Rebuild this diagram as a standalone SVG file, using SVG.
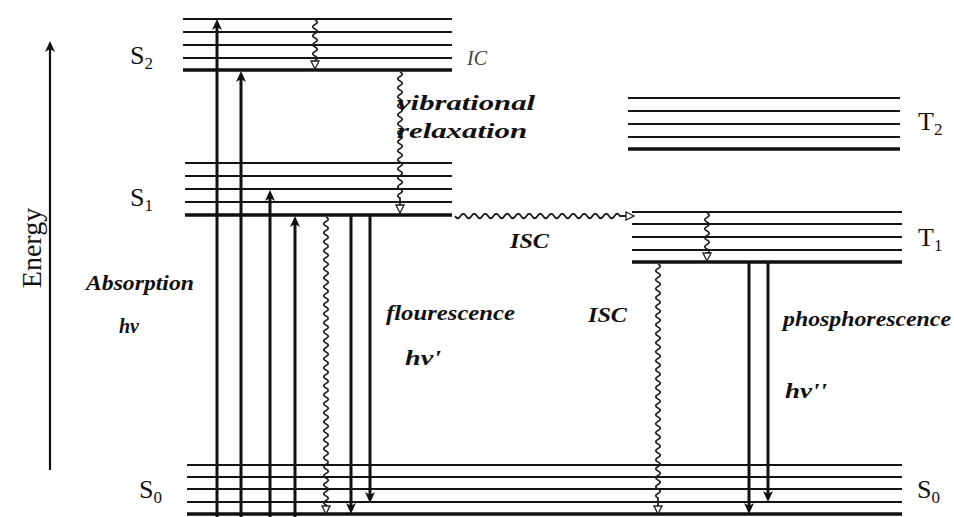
<svg xmlns="http://www.w3.org/2000/svg" width="954" height="517" viewBox="0 0 954 517">
<style>
.lv{stroke:#151515;stroke-width:2.2;}
.lvb{stroke:#111;stroke-width:3.4;}
.ar{stroke:#111;stroke-width:3;fill:none;}
.wv{stroke:#1e1e1e;stroke-width:1.8;fill:none;}
.st{font-family:"Liberation Serif","DejaVu Serif",serif;font-size:26px;fill:#111;}
.sub{font-size:17px;}
.lb{font-family:"Liberation Serif","DejaVu Serif",serif;font-style:italic;font-weight:bold;font-size:20px;fill:#111;}
</style>
<defs>
<marker id="ah" viewBox="-12 -6 13 12" refX="-5" refY="0" markerWidth="13" markerHeight="12" markerUnits="userSpaceOnUse" orient="auto">
<path d="M0,0 L-11,-5 L-8,0 L-11,5 z" fill="#111"/>
</marker>
<marker id="aw" viewBox="-10 -5 11 10" refX="0" refY="0" markerWidth="11" markerHeight="10" markerUnits="userSpaceOnUse" orient="auto">
<path d="M0,0 L-8,-4 L-8,4 z" fill="#fff" stroke="#222" stroke-width="1.3"/>
</marker>
</defs>
<rect width="954" height="517" fill="#fff"/>

<g id="energy-axis">
<line x1="50" y1="470" x2="50" y2="46" stroke="#111" stroke-width="2.2" marker-end="url(#ah)"/>
<text class="st" transform="translate(41,248) rotate(-90)" text-anchor="middle" style="font-size:28px">Energy</text>
</g>

<g id="S2">
<line class="lv" x1="183" y1="19" x2="452" y2="19"/>
<line class="lv" x1="183" y1="32" x2="452" y2="32"/>
<line class="lv" x1="183" y1="45" x2="452" y2="45"/>
<line class="lv" x1="183" y1="58" x2="452" y2="58"/>
<line class="lvb" x1="183" y1="70" x2="452" y2="70"/>
<text class="st" x="130" y="64">S<tspan class="sub" dy="5">2</tspan></text>
</g>

<g id="S1">
<line class="lv" x1="185" y1="163" x2="452" y2="163"/>
<line class="lv" x1="185" y1="176" x2="452" y2="176"/>
<line class="lv" x1="185" y1="189" x2="452" y2="189"/>
<line class="lv" x1="185" y1="202" x2="452" y2="202"/>
<line class="lvb" x1="185" y1="215" x2="452" y2="215"/>
<text class="st" x="130" y="206">S<tspan class="sub" dy="5">1</tspan></text>
</g>

<g id="T2">
<line class="lv" x1="628" y1="98" x2="900" y2="98"/>
<line class="lv" x1="628" y1="111" x2="900" y2="111"/>
<line class="lv" x1="628" y1="124" x2="900" y2="124"/>
<line class="lv" x1="628" y1="137" x2="900" y2="137"/>
<line class="lvb" x1="628" y1="149" x2="900" y2="149"/>
<text class="st" x="918" y="130">T<tspan class="sub" dy="5">2</tspan></text>
</g>

<g id="T1">
<line class="lv" x1="632" y1="212" x2="902" y2="212"/>
<line class="lv" x1="632" y1="224" x2="902" y2="224"/>
<line class="lv" x1="632" y1="237" x2="902" y2="237"/>
<line class="lv" x1="632" y1="250" x2="902" y2="250"/>
<line class="lvb" x1="632" y1="262" x2="902" y2="262"/>
<text class="st" x="918" y="246">T<tspan class="sub" dy="5">1</tspan></text>
</g>

<g id="S0">
<line class="lv" x1="187" y1="465" x2="902" y2="465"/>
<line class="lv" x1="187" y1="477" x2="902" y2="477"/>
<line class="lv" x1="187" y1="489" x2="902" y2="489"/>
<line class="lv" x1="187" y1="502" x2="902" y2="502"/>
<line class="lvb" x1="187" y1="514" x2="902" y2="514"/>
<text class="st" x="139" y="498">S<tspan class="sub" dy="5">0</tspan></text>
<text class="st" x="917" y="498">S<tspan class="sub" dy="5">0</tspan></text>
</g>

<g id="connectors">
<line class="ar" x1="217" y1="517" x2="217" y2="24" marker-end="url(#ah)"/>
<line class="ar" x1="241" y1="517" x2="241" y2="76" marker-end="url(#ah)"/>
<line class="ar" x1="270" y1="517" x2="270" y2="195" marker-end="url(#ah)"/>
<line class="ar" x1="295" y1="517" x2="295" y2="221" marker-end="url(#ah)"/>
<line class="ar" x1="351" y1="216" x2="351" y2="509" marker-end="url(#ah)"/>
<line class="ar" x1="370" y1="216" x2="370" y2="498" marker-end="url(#ah)"/>
<line class="ar" x1="749" y1="263" x2="749" y2="509" marker-end="url(#ah)"/>
<line class="ar" x1="768" y1="263" x2="768" y2="497" marker-end="url(#ah)"/>

<path class="wv" marker-end="url(#aw)" d="M315 20q4.5 2.25 0 4.5t0 4.5 0 4.5 0 4.5 0 4.5 0 4.5 0 4.5 0 4.5 0 4.5L315 69"/>
<path class="wv" marker-end="url(#aw)" d="M400 72q4.5 2.25 0 4.5t0 4.5 0 4.5 0 4.5 0 4.5 0 4.5 0 4.5 0 4.5 0 4.5 0 4.5 0 4.5 0 4.5 0 4.5 0 4.5 0 4.5 0 4.5 0 4.5 0 4.5 0 4.5 0 4.5 0 4.5 0 4.5 0 4.5 0 4.5 0 4.5 0 4.5 0 4.5 0 4.5L400 213"/>
<path class="wv" marker-end="url(#aw)" d="M326 217q4.5 2.25 0 4.5t0 4.5 0 4.5 0 4.5 0 4.5 0 4.5 0 4.5 0 4.5 0 4.5 0 4.5 0 4.5 0 4.5 0 4.5 0 4.5 0 4.5 0 4.5 0 4.5 0 4.5 0 4.5 0 4.5 0 4.5 0 4.5 0 4.5 0 4.5 0 4.5 0 4.5 0 4.5 0 4.5 0 4.5 0 4.5 0 4.5 0 4.5 0 4.5 0 4.5 0 4.5 0 4.5 0 4.5 0 4.5 0 4.5 0 4.5 0 4.5 0 4.5 0 4.5 0 4.5 0 4.5 0 4.5 0 4.5 0 4.5 0 4.5 0 4.5 0 4.5 0 4.5 0 4.5 0 4.5 0 4.5 0 4.5 0 4.5 0 4.5 0 4.5 0 4.5 0 4.5 0 4.5 0 4.5 0 4.5 0 4.5L326 514"/>
<path class="wv" marker-end="url(#aw)" d="M455 216q2.75 4.5 5.5 0t5.5 0 5.5 0 5.5 0 5.5 0 5.5 0 5.5 0 5.5 0 5.5 0 5.5 0 5.5 0 5.5 0 5.5 0 5.5 0 5.5 0 5.5 0 5.5 0 5.5 0 5.5 0 5.5 0 5.5 0 5.5 0 5.5 0 5.5 0 5.5 0 5.5 0 5.5 0 5.5 0 5.5 0 5.5 0L634 216"/>
<path class="wv" marker-end="url(#aw)" d="M707 213q4.5 2.25 0 4.5t0 4.5 0 4.5 0 4.5 0 4.5 0 4.5 0 4.5 0 4.5 0 4.5L707 261"/>
<path class="wv" marker-end="url(#aw)" d="M658 264q4.5 2.25 0 4.5t0 4.5 0 4.5 0 4.5 0 4.5 0 4.5 0 4.5 0 4.5 0 4.5 0 4.5 0 4.5 0 4.5 0 4.5 0 4.5 0 4.5 0 4.5 0 4.5 0 4.5 0 4.5 0 4.5 0 4.5 0 4.5 0 4.5 0 4.5 0 4.5 0 4.5 0 4.5 0 4.5 0 4.5 0 4.5 0 4.5 0 4.5 0 4.5 0 4.5 0 4.5 0 4.5 0 4.5 0 4.5 0 4.5 0 4.5 0 4.5 0 4.5 0 4.5 0 4.5 0 4.5 0 4.5 0 4.5 0 4.5 0 4.5 0 4.5 0 4.5 0 4.5L658 514"/>
</g>

<g id="labels">
<text x="467" y="65" font-family="Liberation Serif,serif" font-style="italic" font-size="20" fill="#444">IC</text>
<text class="lb" x="397" y="110" textLength="138" lengthAdjust="spacingAndGlyphs">vibrational</text>
<text class="lb" x="397" y="138" textLength="130" lengthAdjust="spacingAndGlyphs">relaxation</text>
<text class="lb" x="510" y="248" textLength="39" lengthAdjust="spacingAndGlyphs">ISC</text>
<text class="lb" x="86" y="290" textLength="108" lengthAdjust="spacingAndGlyphs">Absorption</text>
<text class="lb" x="119" y="333" textLength="20" lengthAdjust="spacingAndGlyphs" style="font-size:22px">hv</text>
<text class="lb" x="386" y="320" textLength="129" lengthAdjust="spacingAndGlyphs">flourescence</text>
<text class="lb" x="405" y="365" textLength="36" lengthAdjust="spacingAndGlyphs" style="font-size:22px">hv'</text>
<text class="lb" x="588" y="322" textLength="39" lengthAdjust="spacingAndGlyphs">ISC</text>
<text class="lb" x="783" y="326" textLength="168" lengthAdjust="spacingAndGlyphs">phosphorescence</text>
<text class="lb" x="785" y="398" textLength="42" lengthAdjust="spacingAndGlyphs" style="font-size:22px">hv''</text>
</g>
</svg>
